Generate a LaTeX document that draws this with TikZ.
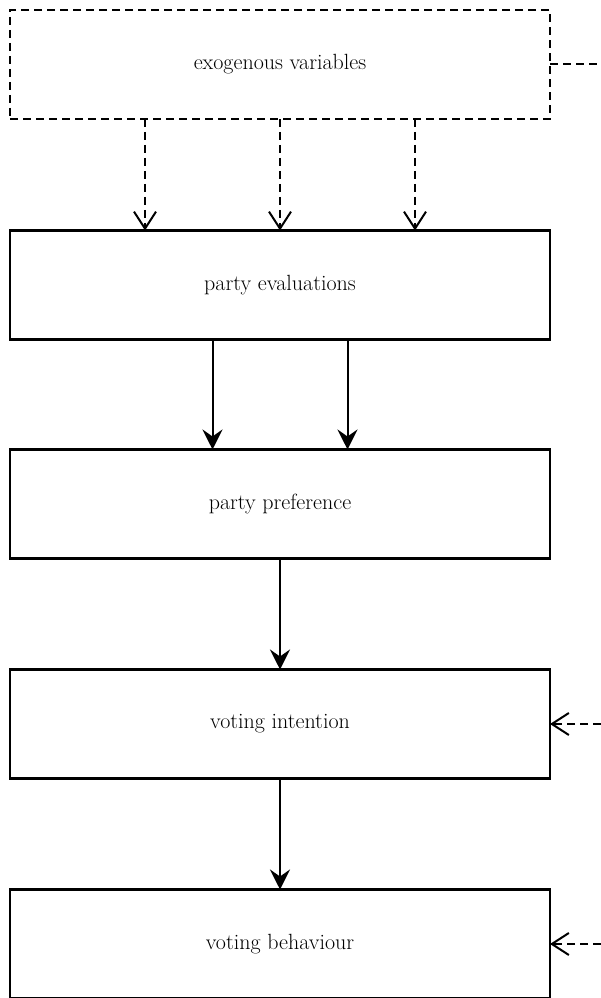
\documentclass[tikz,border=0pt]{standalone}
\usetikzlibrary{arrows.meta}
\tikzset{
  stage/.style={draw, line width=2.2pt, minimum width=540pt, minimum height=109pt, inner sep=0pt, outer sep=0pt, font=\fontsize{22}{26}\selectfont},
  exobox/.style={stage, dash pattern=on 8pt off 5pt},
  exline/.style={line width=2pt, dash pattern=on 8pt off 5pt},
  exarrow/.style={exline, -{Straight Barb[length=17pt,width=22pt,line width=2pt]}},
  mainarrow/.style={line width=2pt, -{Stealth[length=20pt,width=20pt,inset=7pt]}}
}
\begin{document}
\begin{tikzpicture}[x=1pt, y=1pt]
        \useasboundingbox (0,0) rectangle (601,998);

        \node[exobox] (exo) at (280,933.5) {exogenous variables};
        \node[stage] (eval) at (280,713) {party evaluations};
        \node[stage] (pref) at (280,494) {party preference};
        \node[stage] (int) at (280,274) {voting intention};
        \node[stage] (beh) at (280,54) {voting behaviour};

        \coordinate (fbtop) at (640,933.5);
        \coordinate (fbint) at (640,274);
        \coordinate (fbbeh) at (640,54);

        \path[draw,exarrow] ([xshift=-135pt]exo.south) -- ([xshift=-135pt]eval.north);
        \path[draw,exarrow] (exo.south) -- (eval.north);
        \path[draw,exarrow] ([xshift=135pt]exo.south) -- ([xshift=135pt]eval.north);

        \path[draw,mainarrow] ([xshift=-67.5pt]eval.south) -- ([xshift=-67.5pt]pref.north);
        \path[draw,mainarrow] ([xshift=67.5pt]eval.south) -- ([xshift=67.5pt]pref.north);
        \path[draw,mainarrow] (pref.south) -- (int.north);
        \path[draw,mainarrow] (int.south) -- (beh.north);

        \path[draw,exline] (exo.east) -- (fbtop) -- (fbbeh);
        \path[draw,exarrow] (fbint) -- (int.east);
        \path[draw,exarrow] (fbbeh) -- (beh.east);
    \end{tikzpicture}
\end{document}
